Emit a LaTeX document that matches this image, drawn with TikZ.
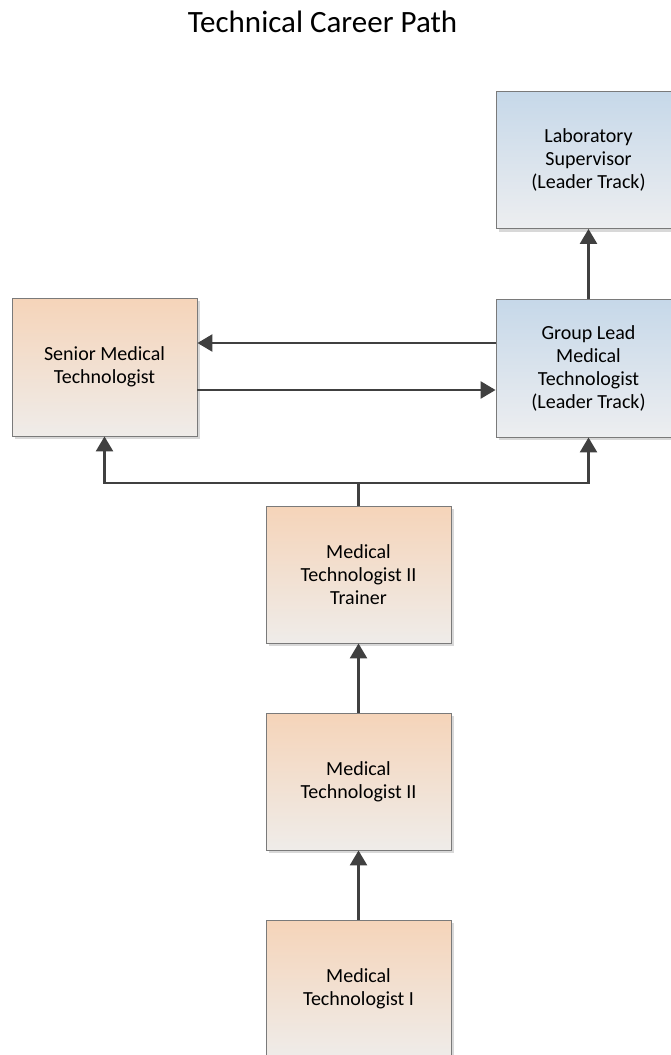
\documentclass[tikz,border=0pt]{standalone}
\usepackage{fontspec}
\setmainfont{Carlito}
\usepackage{tikz}
\usetikzlibrary{arrows.meta,shadows}

\definecolor{peach}{HTML}{F5D4B9}
\definecolor{fog}{HTML}{EFECE9}
\definecolor{sky}{HTML}{C6D8E9}
\definecolor{mist}{HTML}{EDEEF0}
\definecolor{rim}{HTML}{7A7A7A}
\definecolor{ink}{HTML}{404040}

\tikzset{
  job/.style={draw=rim, line width=0.9pt, top color=peach, bottom color=fog,
    minimum width=185pt, minimum height=137pt, inner sep=0pt, align=center,
    font=\fontsize{20}{23}\selectfont,
    drop shadow={shadow xshift=3pt, shadow yshift=-3pt, fill=black!30, opacity=0.5}},
  lead/.style={job, top color=sky, bottom color=mist},
  path/.style={draw=ink, line width=2.6pt}
}

\begin{document}
\begin{tikzpicture}[x=1pt, y=-1pt, >={Triangle[width=17pt,length=15pt]}]
	\clip (0,0) rectangle (671,1055);
	\fill[white] (0,0) rectangle (671,1055);
	\node[anchor=base, font=\fontsize{31}{36}\selectfont] (title) at (322.5, 32) {Technical Career Path};

	\node[lead] (lab) at (588.5, 160) {Laboratory\\Supervisor\\(Leader Track)};
	\node[lead, minimum height=138pt] (group) at (588.5, 368) {Group Lead\\Medical\\Technologist\\(Leader Track)};
	\node[job, minimum height=138pt] (senior) at (104.5, 367) {Senior Medical\\Technologist};
	\node[job] (trainer) at (358.5, 574.5) {Medical\\Technologist II\\Trainer};
	\node[job] (mt2) at (358.5, 781.5) {Medical\\Technologist II};
	\node[job] (mt1) at (358.5, 988.5) {Medical\\Technologist I};

	\coordinate (bus) at (358.5, 483);

	% upward steps
	\draw[path,->] (mt1.north) -- (mt2.south);
	\draw[path,->] (mt2.north) -- (trainer.south);
	\draw[path,->] (trainer.north) -- (bus) -| (senior.south);
	\draw[path,->] (bus) -| (group.south);
	\draw[path,->] (group.north) -- (lab.south);

	% sideways moves
	\draw[path,->] ([yshift=25pt]group.west) -- ([yshift=25pt]group.west -| senior.east);
	\draw[path,->] ([yshift=-23pt]senior.east) -- ([yshift=-23pt]senior.east -| group.west);
\end{tikzpicture}
\end{document}
